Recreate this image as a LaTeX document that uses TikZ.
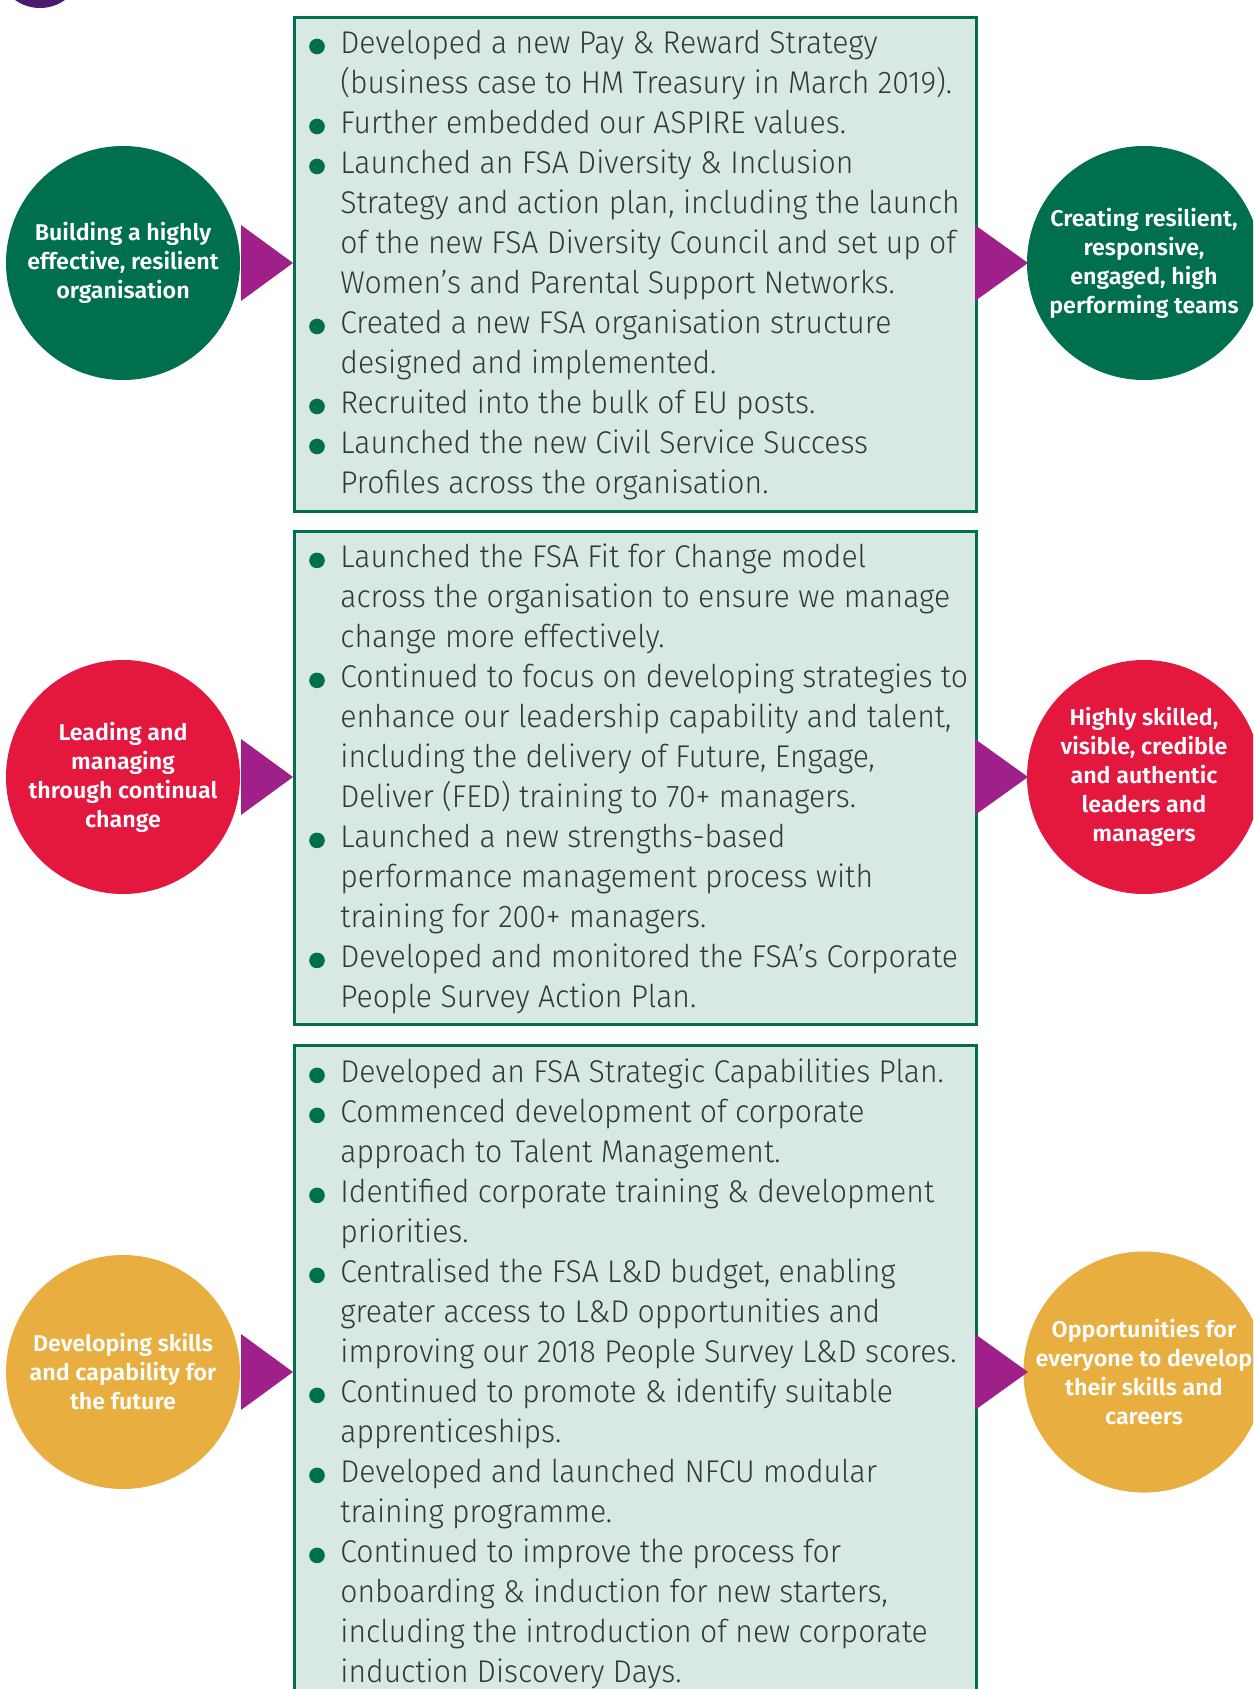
\documentclass[tikz,border=0pt]{standalone}
\usepackage{fontspec}
\setmainfont{Fira Sans Light}[FakeStretch=0.96]
\newfontfamily\goalfont{Fira Sans SemiBold}[FakeStretch=1.02]
\definecolor{fsagreen}{HTML}{006F4E}
\definecolor{boxfill}{HTML}{D8E8E2}
\definecolor{fsared}{HTML}{E4173E}
\definecolor{fsaamber}{HTML}{E8AE40}
\definecolor{pointerpurple}{HTML}{A0208A}
\definecolor{darkpurple}{HTML}{4A1A6C}
\definecolor{bodygrey}{HTML}{34373D}
\begin{document}
\begin{tikzpicture}[x=0.5pt,y=-0.5pt,
  panel/.style={draw=fsagreen, line width=1.5pt, fill=boxfill, anchor=north west, minimum width=341pt, inner sep=0},
  goal/.style={circle, minimum size=117pt, inner sep=0, text=white, font=\goalfont\fontsize{11.4}{14.5}\selectfont, align=center},
  bodytext/.style={anchor=base west, inner sep=0, text=bodygrey, font=\fontsize{15.7}{20}\selectfont},
  pointer/.style={fill=pointerpurple},
  dot/.style={fill=fsagreen}
]
\clip (0,0) rectangle (1253,1689);

% top-left purple circle (mostly off page)
\fill[darkpurple] (40,-35) circle (43);

% panels
\node[panel, minimum height=247pt] (p1) at (293,16) {};
\node[panel, minimum height=246.5pt] (p2) at (293,530) {};
\node[panel, minimum height=360pt] (p3) at (293,1044) {};

% circles
\node[goal, fill=fsagreen] (l1) at (123,263) {Building a highly\\effective, resilient\\organisation};
\node[goal, fill=fsagreen] (r1) at (1144,263) {Creating resilient,\\responsive,\\engaged, high\\performing teams};
\node[goal, fill=fsared] (l2) at (123,777) {Leading and\\managing\\through continual\\change};
\node[goal, fill=fsared] (r2) at (1144,777) {Highly skilled,\\visible, credible\\and authentic\\leaders and\\managers};
\node[goal, fill=fsaamber] (l3) at (123,1372) {Developing skills\\and capability for\\the future};
\node[goal, fill=fsaamber] (r3) at (1144,1372) {Opportunities for\\everyone to develop\\their skills and\\careers};

% pointers
\foreach \yc in {263,777,1372}{
  \fill[pointer] (241,\yc-38) -- (293,\yc) -- (241,\yc+38) -- cycle;
  \fill[pointer] (975,\yc-38) -- (1028,\yc) -- (975,\yc+38) -- cycle;
}

% text panel 1
\node[bodytext] (t1) at (340,53.3) {\begin{minipage}[t]{330pt}
Developed a new Pay \& Reward Strategy\\
(business case to HM Treasury in March 2019).\\
Further embedded our ASPIRE values.\\
Launched an FSA Diversity \& Inclusion\\
Strategy and action plan, including the launch\\
of the new FSA Diversity Council and set up of\\
Women’s and Parental Support Networks.\\
Created a new FSA organisation structure\\
designed and implemented.\\
Recruited into the bulk of EU posts.\\
Launched the new Civil Service Success\\
Profiles across the organisation.
\end{minipage}};
\foreach \k in {0,2,3,7,9,10}{
  \fill[dot] (317,46.5+40*\k) circle (7.8);
}

% text panel 2
\node[bodytext] (t2) at (340,567.2) {\begin{minipage}[t]{330pt}
Launched the FSA Fit for Change model\\
across the organisation to ensure we manage\\
change more effectively.\\
Continued to focus on developing strategies to\\
enhance our leadership capability and talent,\\
including the delivery of Future, Engage,\\
Deliver (FED) training to 70+ managers.\\
Launched a new strengths-based\\
performance management process with\\
training for 200+ managers.\\
Developed and monitored the FSA’s Corporate\\
People Survey Action Plan.
\end{minipage}};
\foreach \k in {0,3,7,10}{
  \fill[dot] (317,560.4+40*\k) circle (7.8);
}

% text panel 3
\node[bodytext] (t3) at (340,1082.2) {\begin{minipage}[t]{330pt}
Developed an FSA Strategic Capabilities Plan.\\
Commenced development of corporate\\
approach to Talent Management.\\
Identified corporate training \& development\\
priorities.\\
Centralised the FSA L\&D budget, enabling\\
greater access to L\&D opportunities and\\
improving our 2018 People Survey L\&D scores.\\
Continued to promote \& identify suitable\\
apprenticeships.\\
Developed and launched NFCU modular\\
training programme.\\
Continued to improve the process for\\
onboarding \& induction for new starters,\\
including the introduction of new corporate\\
induction Discovery Days.
\end{minipage}};
\foreach \k in {0,1,3,5,8,10,12}{
  \fill[dot] (317,1075.4+40*\k) circle (7.8);
}
\end{tikzpicture}
\end{document}
